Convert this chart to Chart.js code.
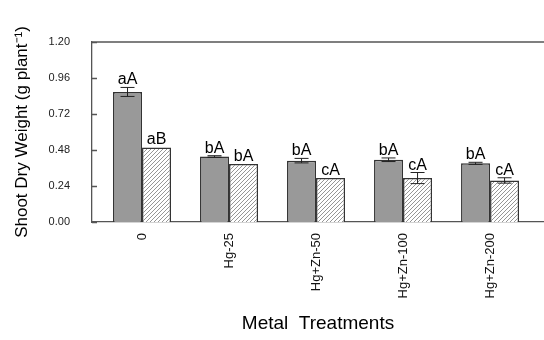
<!DOCTYPE html>
<html>
<head>
<meta charset="utf-8">
<script src="https://cdn.jsdelivr.net/npm/chart.js@4.4.1/dist/chart.umd.min.js"></script>
<style>
  html, body { margin: 0; padding: 0; background: #fff; }
  #wrap { width: 544px; height: 340px; }
</style>
</head>
<body>
<div id="wrap"><canvas id="c" width="544" height="340"></canvas></div>
<script>
// Shoot dry weight under metal treatments (two groups per treatment)
const categories = ['0', 'Hg-25', 'Hg+Zn-50', 'Hg+Zn-100', 'Hg+Zn-200'];
const solidValues = [0.867, 0.437, 0.409, 0.415, 0.391];
const solidErrors = [0.030, 0.005, 0.015, 0.012, 0.007];
const hatchValues = [0.497, 0.387, 0.293, 0.293, 0.277];
const hatchErrors = [0.000, 0.000, 0.000, 0.037, 0.018];
const solidLetters = ['aA', 'bA', 'bA', 'bA', 'bA'];
const hatchLetters = ['aB', 'bA', 'cA', 'cA', 'cA'];
const yTicks = [0, 0.24, 0.48, 0.72, 0.96, 1.20];

const FONT = 'Arial, "Liberation Sans", Helvetica, sans-serif';

function hatchPattern() {
  const s = 4;
  const p = document.createElement('canvas');
  p.width = s; p.height = s;
  const g = p.getContext('2d');
  g.fillStyle = '#ffffff';
  g.fillRect(0, 0, s, s);
  g.strokeStyle = '#8a8a8a';
  g.lineWidth = 0.9;
  g.beginPath();
  g.moveTo(0, s); g.lineTo(s, 0);
  g.moveTo(-s / 2, s / 2); g.lineTo(s / 2, -s / 2);
  g.moveTo(s / 2, s + s / 2); g.lineTo(s + s / 2, s / 2);
  g.stroke();
  return g.createPattern(p, 'repeat');
}

const ctx = document.getElementById('c').getContext('2d');

// frame top line, inward y ticks, error bars and letter labels
const decorations = {
  id: 'decorations',
  afterDatasetsDraw(chart) {
    const { ctx, chartArea, scales } = chart;
    const y = scales.y;
    ctx.save();
    ctx.strokeStyle = '#555';
    ctx.lineWidth = 1.3;
    ctx.beginPath();
    ctx.moveTo(chartArea.left, chartArea.top);
    ctx.lineTo(chartArea.right, chartArea.top);
    yTicks.forEach(t => {
      const py = Math.round(y.getPixelForValue(t)) + 0.5;
      ctx.moveTo(chartArea.left, py);
      ctx.lineTo(chartArea.left + 5, py);
    });
    ctx.stroke();

    const sets = [
      { vals: solidValues, errs: solidErrors, letters: solidLetters },
      { vals: hatchValues, errs: hatchErrors, letters: hatchLetters }
    ];
    sets.forEach((set, di) => {
      const meta = chart.getDatasetMeta(di);
      meta.data.forEach((bar, i) => {
        const x = bar.x;
        const v = set.vals[i], e = set.errs[i];
        const yTop = y.getPixelForValue(v + e);
        const yBot = y.getPixelForValue(v - e);
        if (e > 0) {
          ctx.strokeStyle = '#222';
          ctx.lineWidth = 1;
          ctx.beginPath();
          ctx.moveTo(x, yTop); ctx.lineTo(x, yBot);
          ctx.moveTo(x - 7, yTop); ctx.lineTo(x + 7, yTop);
          ctx.moveTo(x - 7, yBot); ctx.lineTo(x + 7, yBot);
          ctx.stroke();
        }
        ctx.fillStyle = '#000';
        ctx.font = '16px ' + FONT;
        ctx.textAlign = 'center';
        ctx.textBaseline = 'alphabetic';
        ctx.fillText(set.letters[i], x, Math.min(yTop, y.getPixelForValue(v)) - 3);
      });
    });
    ctx.restore();
  }
};

new Chart(ctx, {
  type: 'bar',
  data: {
    datasets: [
      {
        data: solidValues.map((v, i) => ({ x: i, y: v })),
        backgroundColor: '#999999',
        borderColor: '#333333',
        borderWidth: 1.5,
        borderSkipped: 'bottom'
      },
      {
        data: hatchValues.map((v, i) => ({ x: i, y: v })),
        backgroundColor: hatchPattern(),
        borderColor: '#333333',
        borderWidth: 1.5,
        borderSkipped: 'bottom'
      }
    ]
  },
  options: {
    responsive: false,
    animation: false,
    events: [],
    layout: { padding: { top: 42, right: 0, left: 0, bottom: 0 } },
    datasets: { bar: { categoryPercentage: 0.667, barPercentage: 1.0 } },
    plugins: { legend: { display: false }, tooltip: { enabled: false } },
    scales: {
      x: {
        type: 'linear',
        offset: false,
        min: -0.575,
        max: 4.62,
        grid: { display: false, drawTicks: false },
        border: { display: true, color: '#555', width: 1.3 },
        afterBuildTicks: s => { s.ticks = categories.map((_, i) => ({ value: i })); },
        afterFit: s => { s.height = 118; },
        ticks: {
          autoSkip: false,
          minRotation: 90,
          maxRotation: 90,
          padding: 11,
          color: '#111',
          font: { family: FONT, size: 13 },
          callback: v => categories[v]
        },
        title: {
          display: true,
          text: 'Metal  Treatments',
          color: '#000',
          font: { family: FONT, size: 19 },
          padding: { top: 0, bottom: 5 }
        }
      },
      y: {
        min: 0,
        max: 1.2,
        grid: { display: false, drawTicks: false },
        border: { display: true, color: '#555', width: 1.3 },
        afterBuildTicks: s => { s.ticks = yTicks.map(v => ({ value: v })); },
        afterFit: s => { s.width = 92; },
        ticks: {
          padding: 22,
          color: '#222',
          font: { family: FONT, size: 11 },
          callback: v => Number(v).toFixed(2)
        },
        title: {
          display: true,
          text: 'Shoot Dry Weight (g plant⁻¹)',
          color: '#000',
          font: { family: FONT, size: 17 },
          padding: { top: 12, bottom: 0 }
        }
      }
    }
  },
  plugins: [decorations]
});
</script>
</body>
</html>
